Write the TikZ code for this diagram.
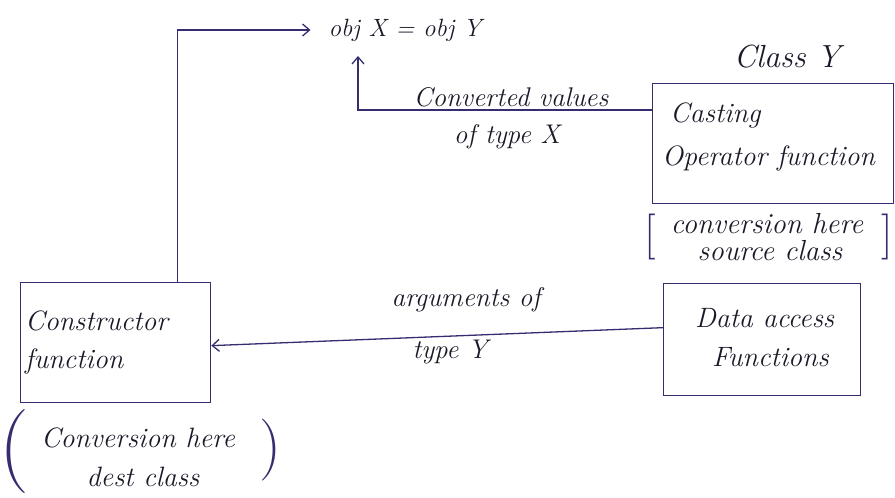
\documentclass[tikz,border=0pt]{standalone}
\usetikzlibrary{arrows.meta}
\definecolor{inkblue}{RGB}{52,46,112}
\definecolor{inktext}{RGB}{28,24,40}
\begin{document}
\begin{tikzpicture}[x=1pt,y=-1pt,
  ink/.style={draw=inkblue, line width=1.3pt},
  arr/.style={ink, -{Straight Barb[length=7pt,width=12pt]}},
  box/.style={ink, rectangle, inner sep=0pt, anchor=north west},
  txt/.style={text=inktext, inner sep=0pt},
  boxtxt/.style={txt, anchor=west, font=\fontsize{28}{32}\selectfont\itshape},
  lbl/.style={txt, font=\fontsize{27}{30}\selectfont\itshape},
  note/.style={txt, font=\fontsize{29}{30}\selectfont\itshape},
  delim/.style={txt, text=inkblue, font=\fontsize{#1}{#1}\selectfont}]
\useasboundingbox (0,0) rectangle (895,498);

% equation
\node[txt, font=\fontsize{25}{28}\selectfont\itshape] (eq) at (405,30) {obj X = obj Y};
\node[txt, font=\fontsize{32}{36}\selectfont\itshape] (classy) at (787,57) {Class Y};

% Casting operator box
\node[box, minimum width=241pt, minimum height=120pt] (cast) at (652,83) {};
\node[boxtxt] (castA) at (670,115) {Casting};
\node[boxtxt] (castB) at (662,158) {Operator function};
\node[note] (castnA) at (767,224) {conversion here};
\node[note] (castnB) at (770,251) {source class};
\node[delim=46] (castL) at (650,237) {[};
\node[delim=46] (castR) at (887,237) {]};

% Data access box
\node[box, minimum width=197pt, minimum height=112pt] (data) at (663,283) {};
\node[boxtxt] (dataA) at (695,318) {Data access};
\node[boxtxt] (dataB) at (712,357) {Functions};

% Constructor box
\node[box, minimum width=190pt, minimum height=120pt] (ctor) at (20,282) {};
\node[boxtxt] (ctorA) at (25,321) {Constructor};
\node[boxtxt] (ctorB) at (25,361) {function};
\node[note, font=\fontsize{28}{30}\selectfont\itshape] (ctornA) at (138,438) {Conversion here};
\node[note, font=\fontsize{28}{30}\selectfont\itshape] (ctornB) at (143,477) {dest class};
\node[delim=84] (ctorL) at (14,452) {(};
\node[delim=62] (ctorR) at (270,450) {)};

% labels on connectors
\node[lbl] (cvA) at (511,97) {Converted values};
\node[lbl] (cvB) at (507,137) {of type X};
\node[lbl] (argA) at (466,300) {arguments of};
\node[lbl] (argB) at (450,352) {type Y};

% connectors
\coordinate (uptip) at (358,56);
\draw[arr] ([yshift=-27pt]cast.north west) -| (uptip);
\draw[arr] ([xshift=62pt]ctor.north) |- ([xshift=-18pt]eq.west);
\draw[arr] ([yshift=12pt]data.west) -- ([yshift=-3pt]ctor.east);
\end{tikzpicture}
\end{document}
